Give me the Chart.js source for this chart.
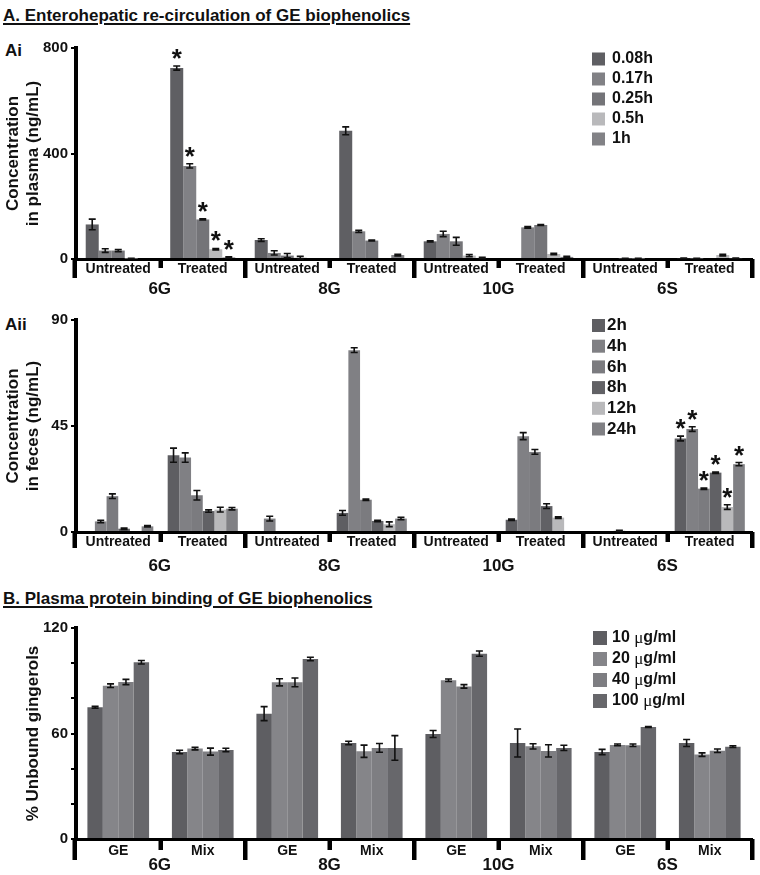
<!DOCTYPE html>
<html>
<head>
<meta charset="utf-8">
<script src="https://cdn.jsdelivr.net/npm/chart.js@4.4.0/dist/chart.umd.min.js"></script>
<style>
  html,body{margin:0;padding:0;background:#fff;}
  body{width:760px;height:875px;position:relative;overflow:hidden;font-family:'Liberation Sans',Arial,sans-serif;color:#111;}
  canvas{position:absolute;left:0;}
  .t{position:absolute;left:3px;font-weight:bold;font-size:17px;line-height:20px;text-decoration:underline;text-decoration-thickness:1.5px;text-underline-offset:2px;white-space:nowrap;}
  .p{position:absolute;left:5px;font-weight:bold;font-size:17px;line-height:20px;}
</style>
</head>
<body>
<div class="t" style="top:6px">A. Enterohepatic re-circulation of GE biophenolics</div>
<div class="p" style="top:41px">Ai</div>
<div class="p" style="top:315px">Aii</div>
<div class="t" style="top:589px">B. Plasma protein binding of GE biophenolics</div>
<canvas id="c1" width="760" height="300" style="top:0px"></canvas>
<canvas id="c2" width="760" height="280" style="top:300px"></canvas>
<canvas id="c3" width="760" height="290" style="top:585px"></canvas>
<script>
// ---------------- DATA ----------------
const compounds = ['6G', '8G', '10G', '6S'];

// Panel Ai: plasma
const plasmaCategories = ['Untreated','Treated','Untreated','Treated','Untreated','Treated','Untreated','Treated'];
const plasmaSeries = ['0.08h','0.17h','0.25h','0.5h','1h'];
const plasma_008 = [131, 724, 72, 486, 67, 0, 0, 3];
const plasma_017 = [32, 353, 23, 105, 95, 120, 0, 2];
const plasma_025 = [32, 150, 13, 70, 67, 129, 2, 0];
const plasma_05  = [2, 37, 5, 0, 13, 19, 2, 15];
const plasma_1   = [0, 6, 0, 15, 4, 8, 0, 3];
const plasmaErr_008 = [20, 8, 5, 15, 2, 0, 0, 1];
const plasmaErr_017 = [7, 8, 8, 4, 10, 3, 0, 1];
const plasmaErr_025 = [4, 2, 8, 2, 15, 2, 1, 0];
const plasmaErr_05  = [1, 3, 5, 0, 4, 3, 1, 3];
const plasmaErr_1   = [0, 2, 0, 3, 2, 2, 0, 1];
const plasmaStars = [1];           // category indices with asterisks on all series
const plasmaTicks = [0, 400, 800];

// Panel Aii: feces
const fecesCategories = ['Untreated','Treated','Untreated','Treated','Untreated','Treated','Untreated','Treated'];
const fecesSeries = ['2h','4h','6h','8h','12h','24h'];
const feces_2h  = [0, 32.6, 0, 8.1, 0, 5.2, 0, 39.7];
const feces_4h  = [4.5, 31.6, 5.7, 77.2, 0, 40.7, 0, 43.7];
const feces_6h  = [15.2, 15.6, 0, 13.7, 0, 34, 0.5, 18.4];
const feces_8h  = [1.4, 8.9, 0, 4.7, 0, 11, 0, 25.2];
const feces_12h = [0, 9.5, 0, 3.3, 0, 6.1, 0, 10.6];
const feces_24h = [2.4, 9.9, 0, 5.7, 0, 0, 0, 28.8];
const fecesErr_2h  = [0, 3, 0, 1, 0, 0.3, 0, 1];
const fecesErr_4h  = [0.5, 2, 1, 1, 0, 1.5, 0, 1];
const fecesErr_6h  = [1, 2, 0, 0.3, 0, 1, 0.2, 0.3];
const fecesErr_8h  = [0.3, 0.5, 0, 0.3, 0, 1, 0, 0.3];
const fecesErr_12h = [0, 1, 0, 1, 0, 0.3, 0, 1];
const fecesErr_24h = [0.3, 0.5, 0, 0.5, 0, 0, 0, 0.7];
const fecesStars = [7];
const fecesTicks = [0, 45, 90];

// Panel B: protein binding
const bindCategories = ['GE','Mix','GE','Mix','GE','Mix','GE','Mix'];
const bindSeries = ['10 μg/ml','20 μg/ml','40 μg/ml','100 μg/ml'];
const bind_10  = [74.9, 49.5, 71.3, 54.6, 59.7, 54.6, 49.5, 54.6];
const bind_20  = [87.2, 51.4, 89.1, 49.9, 90.3, 52.7, 53.5, 48.0];
const bind_40  = [89.3, 49.7, 89.1, 51.8, 86.8, 50.1, 53.3, 50.2];
const bind_100 = [100.5, 50.6, 102.4, 51.8, 105.4, 51.8, 63.7, 52.5];
const bindErr_10  = [0.5, 1, 4, 1, 2, 8, 1.5, 2];
const bindErr_20  = [1, 0.7, 2, 3.5, 0.7, 1.5, 0.5, 1];
const bindErr_40  = [1.5, 2, 2.5, 2.5, 1, 3.5, 0.7, 1];
const bindErr_100 = [1, 1, 1, 7, 1.5, 1.5, 0.3, 0.5];
const bindTicks = [0, 60, 120];

// ---------------- STYLE ----------------
const FONT = "'Liberation Sans', Arial, sans-serif";
const TXT = '#111';
Chart.defaults.font.family = FONT;
Chart.defaults.color = TXT;

const plasmaColors = ['#5f5f63', '#818185', '#747478', '#b9b9bb', '#828286'];
const fecesColors  = ['#5e5e62', '#808084', '#7b7b7f', '#616165', '#b9b9bb', '#808084'];
const bindColors   = ['#5e5e62', '#858589', '#7e7e82', '#67676b'];

function mkDatasets(labels, values, errs, colors, stars, catPct) {
  return labels.map((l, i) => ({
    label: l,
    data: values[i],
    err: errs[i],
    stars: stars,
    backgroundColor: colors[i],
    borderWidth: 0,
    barPercentage: 1,
    categoryPercentage: catPct
  }));
}

const decoPlugin = {
  id: 'deco',
  afterDatasetsDraw(chart, args, o) {
    const ctx = chart.ctx;
    const ys = chart.scales.y;
    ctx.save();
    chart.data.datasets.forEach((ds, i) => {
      const meta = chart.getDatasetMeta(i);
      meta.data.forEach((bar, j) => {
        const v = ds.data[j], e = ds.err[j];
        let top = ys.getPixelForValue(v);
        if (e > 0) {
          const yt = ys.getPixelForValue(v + e);
          const yb = ys.getPixelForValue(Math.max(0, v - e));
          ctx.strokeStyle = '#111';
          ctx.lineWidth = 1.6;
          ctx.beginPath();
          ctx.moveTo(bar.x, yt); ctx.lineTo(bar.x, yb);
          ctx.moveTo(bar.x - 3.5, yt); ctx.lineTo(bar.x + 3.5, yt);
          ctx.moveTo(bar.x - 3.5, yb); ctx.lineTo(bar.x + 3.5, yb);
          ctx.stroke();
          top = yt;
        }
        if (ds.stars && ds.stars.includes(j)) {
          ctx.font = 'bold 26px ' + FONT;
          ctx.fillStyle = '#111';
          ctx.textAlign = 'center';
          ctx.textBaseline = 'alphabetic';
          const m = ctx.measureText('*');
          const desc = m.actualBoundingBoxDescent || -9;
          ctx.fillText('*', bar.x, top - o.starGap - desc);
        }
      });
    });
    ctx.restore();
  },
  afterDraw(chart, args, o) {
    const ctx = chart.ctx;
    const xs = chart.scales.x;
    const ca = chart.chartArea;
    const n = chart.data.labels.length;
    const b = [];
    for (let k = 0; k <= n; k++) {
      if (k === 0) b.push(ca.left - 1.5);
      else if (k === n) b.push(ca.right);
      else b.push((xs.getPixelForValue(k - 1) + xs.getPixelForValue(k)) / 2);
    }
    ctx.save();
    ctx.fillStyle = '#000';
    b.forEach((x, k) => {
      const len = (k % 2 === 0) ? o.majorLen : o.minorLen;
      ctx.fillRect(x - 2, ca.bottom, 4.5, len);
    });
    // compound labels
    ctx.font = 'bold 17px ' + FONT;
    ctx.fillStyle = TXT;
    ctx.textAlign = 'center';
    ctx.textBaseline = 'middle';
    compounds.forEach((c, i) => {
      ctx.fillText(c, (b[2 * i] + b[2 * i + 2]) / 2, ca.bottom + o.compoundOffset);
    });
    // legend
    const L = o.legend;
    chart.data.datasets.forEach((ds, i) => {
      const cy = L.y + i * L.spacing;
      ctx.fillStyle = ds.backgroundColor;
      ctx.fillRect(L.x, cy - L.box / 2, L.box, L.box);
      ctx.fillStyle = TXT;
      ctx.textAlign = 'left';
      ctx.textBaseline = 'middle';
      let tx = L.x + L.box + L.gap;
      const parts = ds.label.split('μ');
      parts.forEach((p, pi) => {
        ctx.font = 'bold ' + L.size + 'px ' + FONT;
        ctx.fillText(p, tx, cy);
        tx += ctx.measureText(p).width;
        if (pi < parts.length - 1) {
          ctx.font = (L.size + 1) + "px 'Liberation Serif', 'Times New Roman', serif";
          ctx.fillText('μ', tx, cy + 1);
          tx += ctx.measureText('μ').width;
        }
      });
    });
    ctx.restore();
  }
};

function buildChart(id, cfg) {
  return new Chart(document.getElementById(id), {
    type: 'bar',
    data: { labels: cfg.labels, datasets: cfg.datasets },
    plugins: [decoPlugin],
    options: {
      responsive: false,
      animation: false,
      events: [],
      layout: { padding: { top: cfg.top, right: 8, left: 0, bottom: 0 } },
      plugins: {
        legend: { display: false },
        tooltip: { enabled: false },
        deco: cfg.deco
      },
      scales: {
        x: {
          grid: { display: false, drawTicks: false },
          border: { display: true, color: '#000', width: 3 },
          ticks: { font: { size: cfg.xFont, weight: 'bold' }, color: TXT, padding: cfg.xPad, maxRotation: 0, autoSkip: false },
          afterFit(s) { s.height = cfg.xHeight; }
        },
        y: {
          min: cfg.ticks[0],
          max: cfg.ticks[cfg.ticks.length - 1],
          afterBuildTicks(s) {
            const st = cfg.minorStep || (cfg.ticks[1] - cfg.ticks[0]);
            const arr = [];
            for (let v = s.min; v <= s.max + 1e-9; v += st) arr.push({ value: v });
            s.ticks = arr;
          },
          ticks: {
            font: { size: 15, weight: 'bold' }, color: TXT, padding: 3,
            callback: (v) => cfg.ticks.includes(v) ? String(v) : ''
          },
          grid: { display: true, drawOnChartArea: false, drawTicks: true, tickLength: 5, color: '#000', lineWidth: 2 },
          border: { display: true, color: '#000', width: 4 },
          title: { display: true, text: cfg.yTitle, color: TXT, font: { size: 17, weight: 'bold', lineHeight: 1.15 }, padding: { top: cfg.yTitlePad, bottom: 0 } },
          afterFit(s) { s.width = 76; }
        }
      }
    }
  });
}

buildChart('c1', {
  labels: plasmaCategories,
  datasets: mkDatasets(plasmaSeries,
    [plasma_008, plasma_017, plasma_025, plasma_05, plasma_1],
    [plasmaErr_008, plasmaErr_017, plasmaErr_025, plasmaErr_05, plasmaErr_1],
    plasmaColors, plasmaStars, 0.77),
  top: 48, xHeight: 41, xFont: 14, xPad: 2,
  ticks: plasmaTicks,
  yTitle: ['Concentration', 'in plasma (ng/mL)'], yTitlePad: 4,
  deco: { majorLen: 19, minorLen: 9, compoundOffset: 30, starGap: 7,
          legend: { x: 592, y: 59, spacing: 20, box: 13, gap: 7, size: 16 } }
});

buildChart('c2', {
  labels: fecesCategories,
  datasets: mkDatasets(fecesSeries,
    [feces_2h, feces_4h, feces_6h, feces_8h, feces_12h, feces_24h],
    [fecesErr_2h, fecesErr_4h, fecesErr_6h, fecesErr_8h, fecesErr_12h, fecesErr_24h],
    fecesColors, fecesStars, 0.83),
  top: 20, xHeight: 48, xFont: 14, xPad: 2,
  ticks: fecesTicks,
  yTitle: ['Concentration', 'in feces (ng/mL)'], yTitlePad: 4,
  deco: { majorLen: 16, minorLen: 10, compoundOffset: 34, starGap: 7,
          legend: { x: 592, y: 25.5, spacing: 20.7, box: 13, gap: 2, size: 17 } }
});

buildChart('c3', {
  labels: bindCategories,
  datasets: mkDatasets(bindSeries,
    [bind_10, bind_20, bind_40, bind_100],
    [bindErr_10, bindErr_20, bindErr_40, bindErr_100],
    bindColors, [], 0.73),
  top: 43, xHeight: 36, xFont: 14, xPad: 4,
  ticks: bindTicks, minorStep: 20,
  yTitle: '% Unbound gingerols', yTitlePad: 24,
  deco: { majorLen: 21, minorLen: 11, compoundOffset: 26, starGap: 7,
          legend: { x: 593, y: 53, spacing: 21, box: 14, gap: 5, size: 16 } }
});
</script>
</body>
</html>
